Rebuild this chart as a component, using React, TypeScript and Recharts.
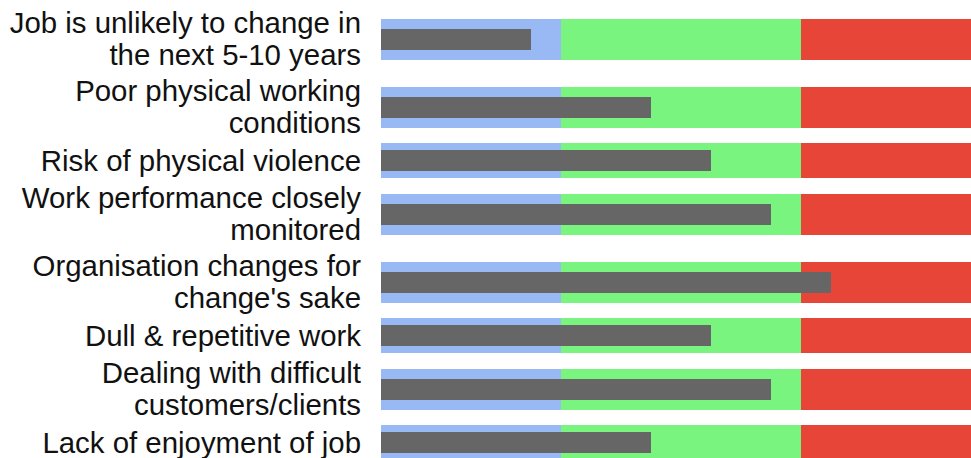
import { BarChart, Bar, XAxis, YAxis } from "recharts";

const CATEGORIES = [
  "Job is unlikely to change in\nthe next 5-10 years",
  "Poor physical working\nconditions",
  "Risk of physical violence",
  "Work performance closely\nmonitored",
  "Organisation changes for\nchange's sake",
  "Dull & repetitive work",
  "Dealing with difficult\ncustomers/clients",
  "Lack of enjoyment of job",
];

const SCORES = [5, 9, 11, 13, 15, 11, 13, 9];

// qualitative ranges (upper bounds), shared by every row
const RANGE_LOW = 6;
const RANGE_MID = 14;
const RANGE_MAX = 20;

const COLORS = {
  low: "#99b9f5",
  mid: "#79f57f",
  high: "#e64538",
  bar: "#666666",
};

const ROW_HEIGHT_2 = 68;
const ROW_HEIGHT_1 = 39;
const AXIS_WIDTH = 381;
const LABEL_RIGHT = 361;
const LINE_HEIGHT = 32;

const LabelTick = (props: any) => {
  const { y, payload } = props;
  const lines = String(payload.value).split("\n");
  const startY = y - ((lines.length - 1) * LINE_HEIGHT) / 2 + 10;
  return (
    <text
      x={LABEL_RIGHT}
      y={startY}
      textAnchor="end"
      fill="#111"
      fontSize={29.4}
      fontFamily="'Liberation Sans', Arial, sans-serif"
    >
      {lines.map((line, i) => (
        <tspan key={i} x={LABEL_RIGHT} dy={i === 0 ? 0 : LINE_HEIGHT}>
          {line}
        </tspan>
      ))}
    </text>
  );
};

const BulletRow = ({ label, score }: { label: string; score: number }) => {
  const lines = label.split("\n").length;
  const height = lines > 1 ? ROW_HEIGHT_2 : ROW_HEIGHT_1;
  const data = [
    {
      name: label,
      low: RANGE_LOW,
      mid: RANGE_MID - RANGE_LOW,
      high: RANGE_MAX - RANGE_MID,
      score,
    },
  ];

  return (
    <BarChart
      width={AXIS_WIDTH + 600}
      height={height}
      data={data}
      layout="vertical"
      margin={{ top: 0, right: 0, bottom: 0, left: 0 }}
    >
      <XAxis type="number" domain={[0, RANGE_MAX]} hide />
      <YAxis
        yAxisId="bands"
        type="category"
        dataKey="name"
        width={AXIS_WIDTH}
        axisLine={false}
        tickLine={false}
        tick={<LabelTick />}
        interval={0}
      />
      <YAxis yAxisId="score" type="category" dataKey="name" hide />
      <Bar yAxisId="bands" dataKey="low" stackId="r" fill={COLORS.low} barSize={41} isAnimationActive={false} />
      <Bar yAxisId="bands" dataKey="mid" stackId="r" fill={COLORS.mid} barSize={41} isAnimationActive={false} />
      <Bar yAxisId="bands" dataKey="high" stackId="r" fill={COLORS.high} barSize={41} isAnimationActive={false} />
      <Bar yAxisId="score" dataKey="score" fill={COLORS.bar} barSize={21} isAnimationActive={false} />
    </BarChart>
  );
};

export default function App() {
  return (
    <div
      style={{
        position: "absolute",
        left: 0,
        top: 0,
        width: 971,
        height: 458,
        overflow: "hidden",
        background: "#fff",
        paddingTop: 5,
        boxSizing: "border-box",
      }}
    >
      <style>{`.recharts-surface { overflow: visible; }`}</style>
      {CATEGORIES.map((label, i) => (
        <BulletRow key={label} label={label} score={SCORES[i]} />
      ))}
    </div>
  );
}
